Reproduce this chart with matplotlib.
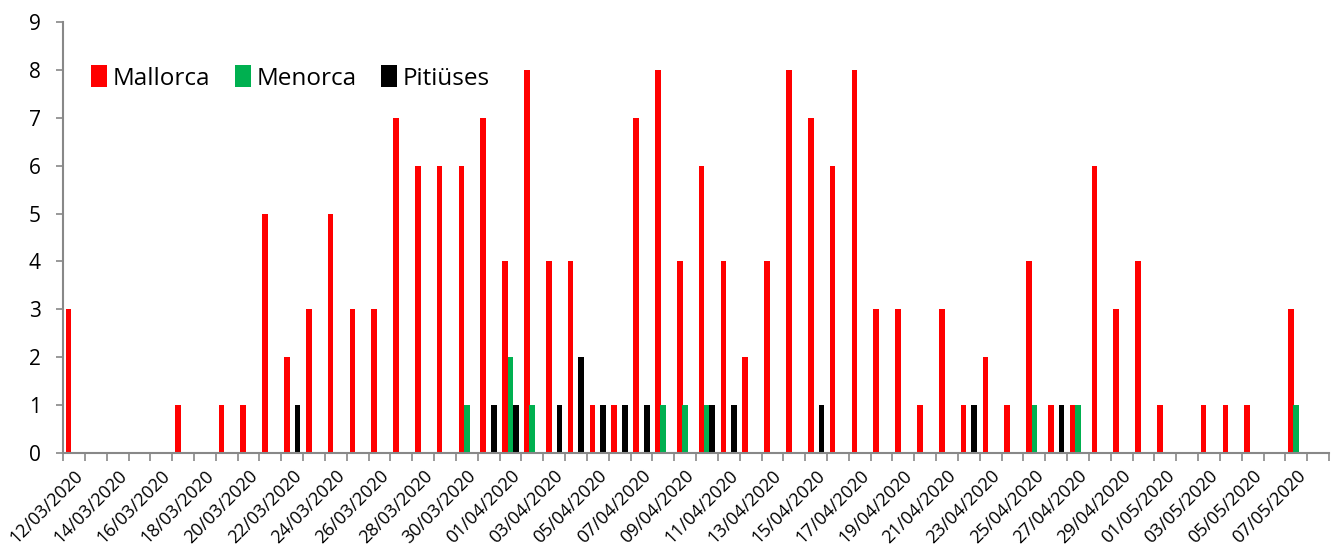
import matplotlib
matplotlib.use("Agg")
import matplotlib.pyplot as plt
import numpy as np
from matplotlib.patches import Patch

plt.rcParams['font.family'] = ['Open Sans', 'DejaVu Sans']

dates = ["12/03/2020", "13/03/2020", "14/03/2020", "15/03/2020", "16/03/2020", "17/03/2020",
         "18/03/2020", "19/03/2020", "20/03/2020", "21/03/2020", "22/03/2020", "23/03/2020",
         "24/03/2020", "25/03/2020", "26/03/2020", "27/03/2020", "28/03/2020", "29/03/2020",
         "30/03/2020", "31/03/2020", "01/04/2020", "02/04/2020", "03/04/2020", "04/04/2020",
         "05/04/2020", "06/04/2020", "07/04/2020", "08/04/2020", "09/04/2020", "10/04/2020",
         "11/04/2020", "12/04/2020", "13/04/2020", "14/04/2020", "15/04/2020", "16/04/2020",
         "17/04/2020", "18/04/2020", "19/04/2020", "20/04/2020", "21/04/2020", "22/04/2020",
         "23/04/2020", "24/04/2020", "25/04/2020", "26/04/2020", "27/04/2020", "28/04/2020",
         "29/04/2020", "30/04/2020", "01/05/2020", "02/05/2020", "03/05/2020", "04/05/2020",
         "05/05/2020", "06/05/2020", "07/05/2020", "08/05/2020"]

mallorca = [3, 0, 0, 0, 0, 1, 0, 1, 1, 5, 2, 3, 5, 3, 3, 7, 6, 6, 6, 7,
            4, 8, 4, 4, 1, 1, 7, 8, 4, 6, 4, 2, 4, 8, 7, 6, 8, 3, 3, 1,
            3, 1, 2, 1, 4, 1, 1, 6, 3, 4, 1, 0, 1, 1, 1, 0, 3, 0]
menorca = [0, 0, 0, 0, 0, 0, 0, 0, 0, 0, 0, 0, 0, 0, 0, 0, 0, 0, 1, 0,
           2, 1, 0, 0, 0, 0, 0, 1, 1, 1, 0, 0, 0, 0, 0, 0, 0, 0, 0, 0,
           0, 0, 0, 0, 1, 0, 1, 0, 0, 0, 0, 0, 0, 0, 0, 0, 1, 0]
pitiuses = [0, 0, 0, 0, 0, 0, 0, 0, 0, 0, 1, 0, 0, 0, 0, 0, 0, 0, 0, 1,
            1, 0, 1, 2, 1, 1, 1, 0, 0, 1, 1, 0, 0, 0, 1, 0, 0, 0, 0, 0,
            0, 1, 0, 0, 0, 1, 0, 0, 0, 0, 0, 0, 0, 0, 0, 0, 0, 0]

series_names = ["Mallorca", "Menorca", "Pitiüses"]
colors = ["#FF0000", "#00B050", "#000000"]

fig = plt.figure(figsize=(13.38, 5.56), dpi=100)
ax = fig.add_axes([0.0471, 0.1853, 0.9462, 0.775])

x = np.arange(len(dates))
w = 0.26
offsets = [-0.245, 0.0, 0.245]
for vals, off, c in zip([mallorca, menorca, pitiuses], offsets, colors):
    ax.bar(x + off, vals, width=w, color=c, linewidth=0)

ax.set_xlim(-0.5, len(dates) - 0.5)
ax.set_ylim(0, 9)
ax.set_yticks(range(0, 10))
ax.tick_params(axis='y', labelsize=15, length=5, color='#888888', width=1.2, pad=11)

ax.set_xticks(np.arange(-0.5, len(dates), 1), minor=True)
ax.set_xticks(x[:57:2])
ax.set_xticklabels(dates[:57:2], rotation=45, ha='right', rotation_mode='anchor', fontsize=13)
ax.tick_params(axis='x', which='major', length=0, pad=10)
ax.tick_params(axis='x', which='minor', length=6, color='#888888', width=1.2)

for s in ['top', 'right']:
    ax.spines[s].set_visible(False)
for s in ['left', 'bottom']:
    ax.spines[s].set_color('#888888')
    ax.spines[s].set_linewidth(1.5)

handles = [Patch(facecolor=c, edgecolor='none') for c in colors]
ax.legend(handles, series_names, loc='upper left', bbox_to_anchor=(0.005, 0.95),
          ncol=3, frameon=False, fontsize=17.5, handlelength=0.65, handleheight=1.0,
          handletextpad=0.25, columnspacing=1.0)

fig.savefig("out.png", dpi=100)
